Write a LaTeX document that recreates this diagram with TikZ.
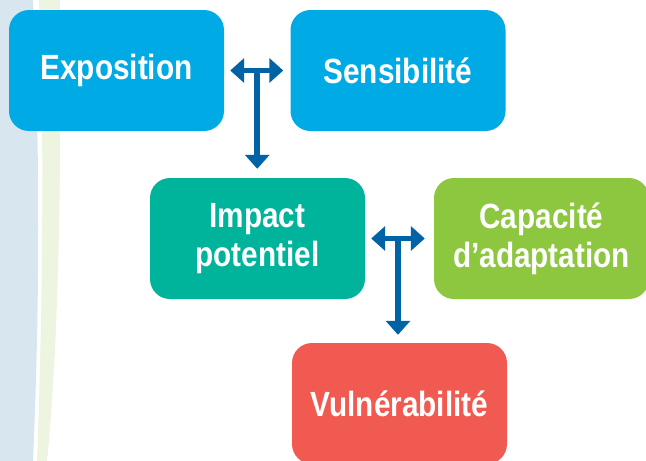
\documentclass[tikz,border=0pt]{standalone}
\usepackage{fontspec}
\setmainfont{Liberation Sans}[FakeStretch=0.85]
\usetikzlibrary{arrows.meta,calc}
\definecolor{boxblue}{RGB}{0,170,228}
\definecolor{boxteal}{RGB}{0,180,155}
\definecolor{boxgreen}{RGB}{141,198,63}
\definecolor{boxred}{RGB}{240,90,80}
\definecolor{arrowblue}{RGB}{0,99,166}
\definecolor{bgblue}{RGB}{216,230,240}
\definecolor{bggreen}{RGB}{237,245,225}
\tikzset{
  box/.style={rounded corners=20pt, minimum width=215pt, minimum height=121pt,
    inner sep=0pt, align=center, text=white,
    font=\fontsize{35}{39}\selectfont\bfseries},
  link/.style={draw=arrowblue, line width=5pt, -{Triangle[width=24pt,length=14pt]}},
  dlink/.style={draw=arrowblue, line width=5pt, {Triangle[width=24pt,length=14pt]}-{Triangle[width=24pt,length=14pt]}}
}
\begin{document}
\begin{tikzpicture}[x=1pt,y=-1pt]
\useasboundingbox (0,0) rectangle (646,461);
% background stripes
\fill[bgblue] (0,0) -- (33,0) .. controls (40,150) and (40,300) .. (33,461) -- (0,461) -- cycle;
\fill[bggreen] (39,0) .. controls (45,150) and (42,330) .. (37,461) -- (47,461)
  .. controls (55,380) and (62,250) .. (60,0) -- cycle;
% boxes
\node[box, fill=boxblue] (expo) at (116.5,70.5) {Exposition};
\node[box, fill=boxblue] (sens) at (398,70.5) {Sensibilité};
\node[box, fill=boxteal] (imp) at (257.5,238.5) {Impact\\potentiel};
\node[box, fill=boxgreen] (cap) at (541.5,238.5) {Capacité\\d’adaptation};
\node[box, fill=boxred] (vul) at (399.5,403.5) {Vulnérabilité};
% connectors
\coordinate (m1) at ($(expo.east)!0.5!(sens.west)$);
\draw[dlink, shorten <=6pt, shorten >=7pt] (expo.east) -- (sens.west);
\draw[link, line width=6pt, shorten >=9pt] (m1) -- (m1 |- imp.north);
\coordinate (m2) at (398,238.5);
\draw[dlink, shorten <=6pt, shorten >=9pt] (imp.east) -- (cap.west);
\draw[link, line width=6pt, shorten >=8pt] (m2) -- (m2 |- vul.north);
\end{tikzpicture}
\end{document}
